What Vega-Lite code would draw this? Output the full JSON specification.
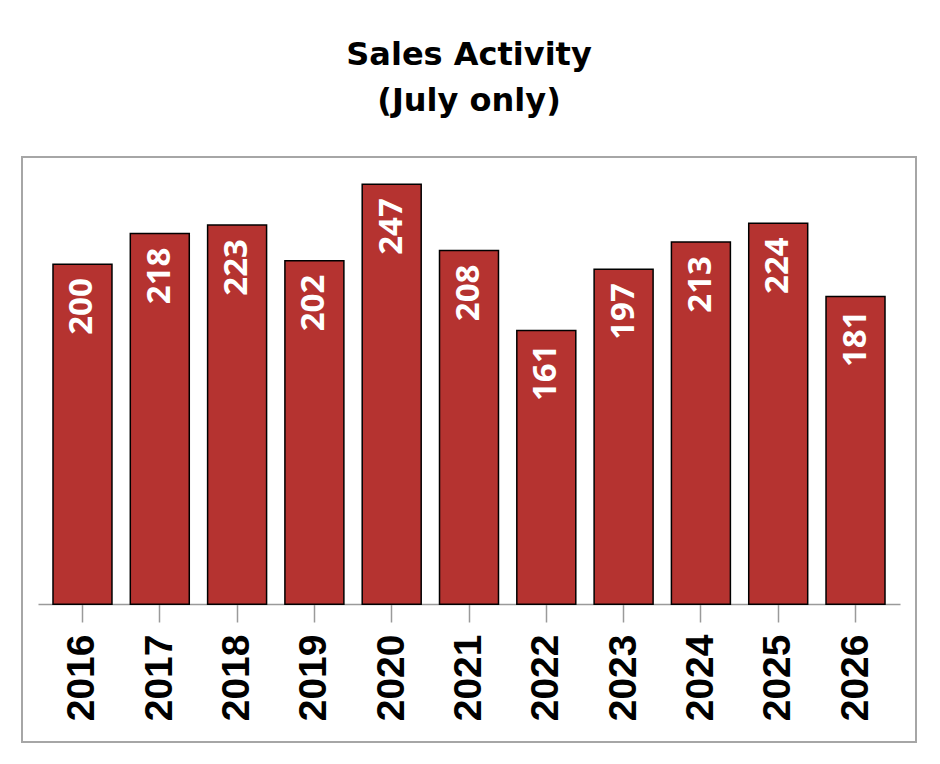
{
  "$schema": "https://vega.github.io/schema/vega-lite/v6.json",
  "autosize": "none",
  "padding": {"left": 22, "top": 157, "right": 24, "bottom": 22},
  "width": 894,
  "height": 585,
  "title": {
    "text": ["Sales Activity", "(July only)"],
    "font": "DejaVu Sans",
    "fontSize": 32,
    "fontWeight": "bold",
    "color": "#000000",
    "lineHeight": 46,
    "anchor": "middle",
    "frame": "group",
    "baseline": "bottom",
    "offset": 7
  },
  "config": {
    "view": {"stroke": "#a6a6a6", "strokeWidth": 2}
  },
  "data": {
    "values": [
      {"year": "2016", "sales": 200},
      {"year": "2017", "sales": 218},
      {"year": "2018", "sales": 223},
      {"year": "2019", "sales": 202},
      {"year": "2020", "sales": 247},
      {"year": "2021", "sales": 208},
      {"year": "2022", "sales": 161},
      {"year": "2023", "sales": 197},
      {"year": "2024", "sales": 213},
      {"year": "2025", "sales": 224},
      {"year": "2026", "sales": 181}
    ]
  },
  "encoding": {
    "x": {
      "field": "year",
      "type": "nominal",
      "sort": null,
      "scale": {"range": [16, 878], "paddingInner": 0.237, "paddingOuter": 0.194},
      "axis": {
        "title": null,
        "orient": "bottom",
        "offset": -138,
        "domainColor": "#9a9a9a",
        "domainWidth": 1.5,
        "tickColor": "#9a9a9a",
        "tickWidth": 1.5,
        "tickSize": 18,
        "labelAngle": -90,
        "labelAlign": "right",
        "labelBaseline": "middle",
        "labelPadding": 12,
        "labelFont": "Liberation Sans",
        "labelFontSize": 39,
        "labelFontWeight": "bold",
        "labelColor": "#000000"
      }
    },
    "y": {
      "field": "sales",
      "type": "quantitative",
      "scale": {"domain": [-81, 263], "nice": false, "zero": false},
      "axis": null
    }
  },
  "layer": [
    {
      "mark": {"type": "bar", "color": "#b53330", "stroke": "#000000", "strokeWidth": 1.5},
      "encoding": {"y2": {"datum": 0}}
    },
    {
      "mark": {
        "type": "text",
        "angle": 270,
        "align": "right",
        "baseline": "middle",
        "dx": -14,
        "font": "Open Sans",
        "fontSize": 33,
        "fontWeight": "bold",
        "color": "#ffffff"
      },
      "encoding": {"text": {"field": "sales", "type": "quantitative"}}
    }
  ]
}
